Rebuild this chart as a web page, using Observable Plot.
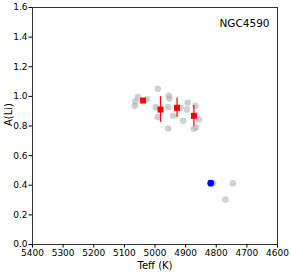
<!DOCTYPE html>
<html><head><meta charset="utf-8">
<script src="https://cdn.jsdelivr.net/npm/d3@7"></script>
<script src="https://cdn.jsdelivr.net/npm/@observablehq/plot@0.6"></script>
<style>body{margin:0;background:#fff;} svg{font-family:"DejaVu Sans",sans-serif;}</style>
</head><body><div id="chart"></div>
<script>
const grayTeff = [5066,5064,5056,5026,4991,4997,4991,4955,4953,4957,4957,4941,4917,4908,4896,4893,4868,4857,4873,4866,4810,4746,4770];
const grayALi  = [0.936,0.965,0.995,0.981,1.051,0.927,0.860,1.004,0.986,0.927,0.783,0.869,0.923,0.835,0.912,0.957,0.936,0.844,0.781,0.792,0.414,0.414,0.304];
const redTeff = [5039,4982,4928,4873];
const redALi  = [0.972,0.911,0.923,0.869];
const redErr  = [0.0,0.087,0.066,0.069];
const blueTeff = [4818];
const blueALi = [0.414];
const xTicks = [5400,5300,5200,5100,5000,4900,4800,4700,4600];
const yTicks = [0,0.2,0.4,0.6,0.8,1.0,1.2,1.4,1.6];
const label = "NGC4590";

const gray = grayTeff.map((t,i)=>({t, a: grayALi[i]}));
const red = redTeff.map((t,i)=>({t, a: redALi[i], lo: redALi[i]-redErr[i], hi: redALi[i]+redErr[i]}));
const blue = blueTeff.map((t,i)=>({t, a: blueALi[i]}));

const plot = Plot.plot({
  width: 291, height: 272,
  marginLeft: 32, marginRight: 14, marginTop: 7, marginBottom: 28,
  style: {fontFamily: '"DejaVu Sans", sans-serif', fontSize: "9px", color: "#000", background: "#fff"},
  x: {domain: [5400, 4600]},
  y: {domain: [0, 1.6]},
  marks: [
    Plot.frame({stroke: "#333"}),
    Plot.axisX(xTicks, {tickSize: 3.5, tickPadding: 1.5, tickFormat: d3.format("d"), label: null, fontSize: 9}),
    Plot.axisY(yTicks, {tickSize: 3.5, tickPadding: 1.5, tickFormat: d3.format(".1f"), label: null, fontSize: 9}),
    Plot.dot(gray, {x: "t", y: "a", r: 3.3, fill: "#a9a9a9", fillOpacity: 0.55}),
    Plot.ruleX(red, {x: "t", y1: "lo", y2: "hi", stroke: "#ff0000", strokeWidth: 1.2}),
    Plot.dot(red, {x: "t", y: "a", symbol: "square", r: 3.4, fill: "#ff0000"}),
    Plot.dot(blue, {x: "t", y: "a", r: 3.4, fill: "#0000ff"}),
    Plot.text([label], {frameAnchor: "top-right", dx: -8, dy: 12, fontSize: 10.5, fill: "#000"}),
    Plot.text(["Teff (K)"], {frameAnchor: "bottom", dy: 24, fontSize: 10, fill: "#000"}),
    Plot.text(["A(Li)"], {frameAnchor: "left", dx: -24, rotate: -90, fontSize: 10, fill: "#000"})
  ]
});
document.getElementById("chart").appendChild(plot);
</script></body></html>
